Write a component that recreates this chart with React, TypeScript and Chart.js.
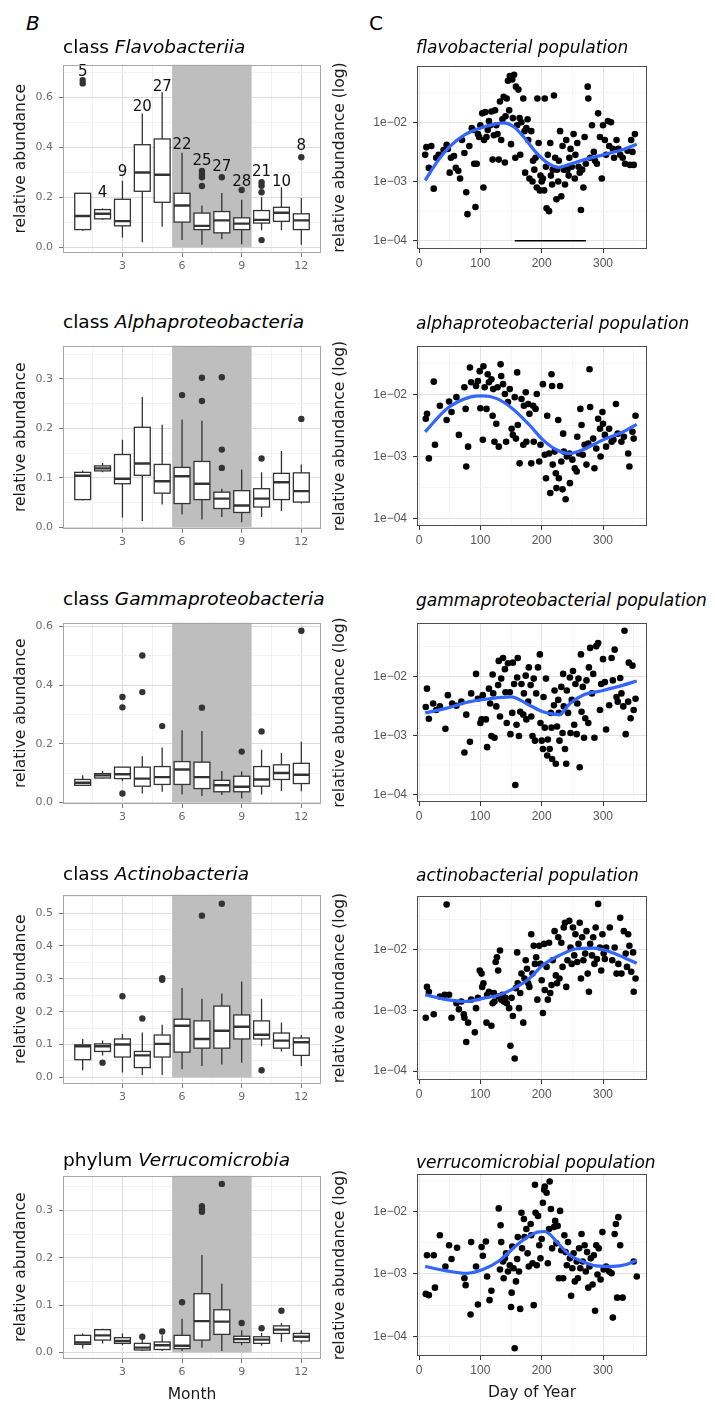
import React, { useEffect, useRef } from 'react';
import { Chart, registerables } from 'chart.js';

Chart.register(...registerables);

// ---------------- data: left column (monthly box plots) ----------------
const MONTHS = [1, 2, 3, 4, 5, 6, 7, 8, 9, 10, 11, 12];
const MONTH_MAJOR = [3, 6, 9, 12];
const MONTH_MINOR = [1.5, 4.5, 7.5, 10.5];
const MONTH_RANGE = [0.01, 12.99];
const SUMMER_MONTHS = [5.5, 9.5];

// [lower whisker, q1, median, q3, upper whisker]
const FLAVO_BOX = [
  [0.066, 0.071, 0.125, 0.216, 0.216],
  [0.11, 0.114, 0.134, 0.151, 0.155],
  [0.039, 0.086, 0.105, 0.192, 0.266],
  [0.02, 0.224, 0.299, 0.41, 0.535],
  [0.082, 0.18, 0.29, 0.433, 0.62],
  [0.029, 0.101, 0.167, 0.216, 0.378],
  [0.01, 0.071, 0.086, 0.137, 0.167],
  [0.032, 0.058, 0.108, 0.143, 0.217],
  [0.012, 0.071, 0.095, 0.118, 0.19],
  [0.068, 0.097, 0.11, 0.147, 0.2],
  [0.068, 0.104, 0.138, 0.16, 0.24],
  [0.01, 0.071, 0.108, 0.134, 0.197],
];
const FLAVO_OUT = [[1, 0.655], [1, 0.668], [7, 0.305], [7, 0.292], [7, 0.28], [7, 0.245], [8, 0.28], [9, 0.229], [10, 0.26], [10, 0.246], [10, 0.22], [10, 0.029], [12, 0.36]];
const FLAVO_N = [5, 4, 9, 20, 27, 22, 25, 27, 28, 21, 10, 8];
const FLAVO_N_Y = [0.70, 0.215, 0.30, 0.56, 0.64, 0.41, 0.345, 0.32, 0.262, 0.30, 0.262, 0.405];
const FLAVO_YRANGE = [-0.0225, 0.73];
const FLAVO_YMAJOR = [0, 0.2, 0.4, 0.6];
const FLAVO_YMINOR = [0.1, 0.3, 0.5, 0.7];

const ALPHA_BOX = [
  [0.054, 0.056, 0.104, 0.111, 0.115],
  [0.111, 0.114, 0.119, 0.124, 0.13],
  [0.02, 0.088, 0.098, 0.147, 0.177],
  [0.013, 0.105, 0.129, 0.202, 0.263],
  [0.046, 0.069, 0.093, 0.127, 0.207],
  [0.026, 0.048, 0.103, 0.121, 0.218],
  [0.016, 0.056, 0.088, 0.133, 0.215],
  [0.021, 0.038, 0.058, 0.071, 0.078],
  [0.01, 0.03, 0.044, 0.074, 0.117],
  [0.021, 0.041, 0.058, 0.078, 0.111],
  [0.033, 0.056, 0.091, 0.109, 0.154],
  [0.048, 0.051, 0.073, 0.11, 0.127],
];
const ALPHA_OUT = [[6, 0.267], [7, 0.302], [7, 0.255], [8, 0.303], [8, 0.157], [8, 0.12], [10, 0.139], [12, 0.219]];
const ALPHA_YRANGE = [-0.0034, 0.367];
const ALPHA_YMAJOR = [0, 0.1, 0.2, 0.3];
const ALPHA_YMINOR = [0.05, 0.15, 0.25, 0.35];

const GAMMA_BOX = [
  [0.056, 0.058, 0.067, 0.078, 0.092],
  [0.081, 0.083, 0.092, 0.098, 0.107],
  [0.072, 0.081, 0.096, 0.12, 0.12],
  [0.03, 0.055, 0.081, 0.12, 0.157],
  [0.036, 0.061, 0.086, 0.122, 0.187],
  [0.027, 0.061, 0.112, 0.139, 0.246],
  [0.022, 0.047, 0.086, 0.137, 0.243],
  [0.025, 0.036, 0.058, 0.075, 0.107],
  [0.013, 0.036, 0.053, 0.089, 0.105],
  [0.027, 0.055, 0.078, 0.122, 0.179],
  [0.039, 0.078, 0.1, 0.128, 0.168],
  [0.038, 0.064, 0.094, 0.133, 0.207],
];
const GAMMA_OUT = [[3, 0.359], [3, 0.324], [3, 0.03], [4, 0.501], [4, 0.376], [5, 0.26], [7, 0.323], [9, 0.173], [10, 0.242], [12, 0.585]];
const GAMMA_YRANGE = [-0.0057, 0.613];
const GAMMA_YMAJOR = [0, 0.2, 0.4, 0.6];
const GAMMA_YMINOR = [0.1, 0.3, 0.5];

const ACTINO_BOX = [
  [0.022, 0.054, 0.095, 0.099, 0.117],
  [0.067, 0.079, 0.095, 0.102, 0.112],
  [0.015, 0.062, 0.1, 0.117, 0.132],
  [0.007, 0.03, 0.067, 0.079, 0.137],
  [0.007, 0.062, 0.102, 0.129, 0.16],
  [0.025, 0.077, 0.157, 0.177, 0.272],
  [0.035, 0.089, 0.117, 0.172, 0.239],
  [0.039, 0.089, 0.142, 0.217, 0.255],
  [0.045, 0.117, 0.154, 0.19, 0.292],
  [0.095, 0.117, 0.13, 0.172, 0.239],
  [0.079, 0.089, 0.112, 0.135, 0.167],
  [0.035, 0.067, 0.107, 0.12, 0.129],
];
const ACTINO_OUT = [[2, 0.045], [3, 0.247], [4, 0.179], [5, 0.302], [5, 0.297], [7, 0.492], [8, 0.528], [10, 0.022]];
const ACTINO_YRANGE = [-0.02, 0.556];
const ACTINO_YMAJOR = [0, 0.1, 0.2, 0.3, 0.4, 0.5];
const ACTINO_YMINOR = [0.05, 0.15, 0.25, 0.35, 0.45, 0.55];

const VERRUCO_BOX = [
  [0.008, 0.017, 0.021, 0.036, 0.04],
  [0.019, 0.026, 0.036, 0.048, 0.05],
  [0.015, 0.019, 0.024, 0.031, 0.04],
  [0.003, 0.005, 0.01, 0.019, 0.026],
  [0.003, 0.006, 0.015, 0.022, 0.036],
  [0.003, 0.008, 0.014, 0.036, 0.071],
  [0.01, 0.026, 0.066, 0.124, 0.206],
  [0.003, 0.038, 0.065, 0.09, 0.145],
  [0.015, 0.021, 0.028, 0.034, 0.047],
  [0.014, 0.019, 0.027, 0.033, 0.041],
  [0.022, 0.04, 0.048, 0.056, 0.062],
  [0.019, 0.024, 0.033, 0.04, 0.047],
];
const VERRUCO_OUT = [[4, 0.033], [5, 0.044], [6, 0.106], [7, 0.309], [7, 0.302], [7, 0.297], [8, 0.356], [9, 0.062], [10, 0.051], [11, 0.088]];
const VERRUCO_YRANGE = [-0.014, 0.3735];
const VERRUCO_YMAJOR = [0, 0.1, 0.2, 0.3];
const VERRUCO_YMINOR = [0.05, 0.15, 0.25, 0.35];

// ---------------- data: right column (day of year, log10 abundance) ----------------
const DAY_MAJOR = [0, 100, 200, 300];
const DAY_MINOR = [50, 150, 250, 350];
const DAY_RANGE = [-3.3, 371.7];
const LOG_MAJOR = [1e-4, 1e-3, 1e-2];
const LOG_MAJOR_LABELS = ['1e\u221204', '1e\u221203', '1e\u221202'];
const LOG_MINOR = [3.162e-4, 3.162e-3, 3.162e-2];
const SUMMER_DAYS = [156, 272];
const SUMMER_BAR_LEVEL = 1e-4;

const FLAVO_PTS = [
  [10, -2.55], [12, -2.42], [16, -2.77], [20, -2.40], [24, -3.12], [28, -2.60], [32, -2.55], [40, -2.47], [45, -2.38], [47, -2.45],
  [50, -2.85], [52, -2.60], [57, -2.57], [60, -2.77], [64, -2.82], [67, -2.95], [70, -2.30], [74, -2.52], [77, -3.18], [79, -3.55],
  [82, -2.40], [86, -2.10], [88, -2.13], [90, -2.70], [92, -3.43], [94, -2.70], [96, -2.20], [98, -2.25], [100, -2.05], [103, -1.85],
  [105, -3.10], [106, -2.30], [108, -1.83], [110, -2.25], [112, -2.13], [114, -1.98], [116, -2.05], [118, -1.82], [120, -2.63], [122, -2.22],
  [124, -1.80], [126, -2.05], [128, -2.20], [130, -2.63], [132, -1.65], [134, -2.30], [136, -1.95], [138, -1.57], [140, -2.68], [141, -1.90],
  [143, -1.60], [145, -1.30], [147, -1.80], [148, -1.22], [150, -2.37], [152, -1.28], [153, -1.93], [155, -1.20], [157, -2.60], [158, -1.40],
  [160, -2.05], [162, -1.45], [164, -1.93], [165, -2.55], [167, -2.00], [170, -1.60], [172, -2.15], [173, -2.85], [175, -2.10], [177, -1.95],
  [178, -2.30], [180, -2.95], [183, -2.15], [185, -3.00], [186, -2.65], [188, -2.80], [190, -2.60], [192, -3.10], [193, -1.60], [195, -2.35],
  [197, -3.15], [198, -2.90], [200, -3.00], [202, -2.95], [204, -3.15], [205, -1.60], [207, -2.75], [208, -3.45], [210, -2.55], [212, -3.50],
  [214, -2.35], [215, -2.90], [217, -3.05], [218, -2.80], [220, -1.55], [222, -2.60], [224, -3.30], [225, -2.80], [227, -3.00], [228, -2.65],
  [230, -2.15], [232, -3.25], [234, -2.40], [236, -2.80], [238, -3.05], [240, -2.30], [242, -2.80], [244, -2.90], [245, -2.60], [247, -2.45],
  [249, -2.75], [252, -2.20], [254, -2.95], [255, -2.55], [258, -2.35], [260, -2.75], [262, -2.85], [264, -3.48], [266, -2.80], [268, -3.10],
  [270, -2.25], [272, -2.70], [275, -1.40], [276, -1.60], [279, -2.60], [282, -2.05], [285, -2.50], [287, -2.65], [290, -2.70], [292, -1.85],
  [295, -2.25], [298, -2.95], [300, -2.05], [303, -2.30], [305, -2.55], [308, -1.98], [310, -2.40], [313, -2.00], [316, -2.45], [318, -2.60],
  [322, -2.30], [325, -2.45], [328, -2.55], [332, -2.60], [336, -2.70], [340, -2.48], [344, -2.72], [346, -2.30], [348, -2.50], [350, -2.72], [352, -2.20],
];
const FLAVO_FIT = [[10, -2.98], [30, -2.66], [50, -2.41], [75, -2.21], [100, -2.10], [120, -2.04], [138, -2.01], [155, -2.08], [170, -2.24], [190, -2.50], [210, -2.69], [228, -2.76], [245, -2.71], [270, -2.63], [300, -2.55], [330, -2.47], [355, -2.37]];
const FLAVO_LOGRANGE = [-4.138, -1.055];

const ALPHA_PTS = [
  [11, -2.39], [13, -2.31], [16, -3.03], [24, -1.79], [26, -2.81], [34, -2.18], [45, -2.41], [49, -2.11], [53, -2.28], [61, -2.04],
  [65, -2.65], [74, -1.88], [76, -2.23], [77, -3.16], [80, -2.84], [83, -1.56], [85, -1.80], [93, -1.86], [96, -1.78], [99, -1.62],
  [100, -2.22], [104, -2.73], [105, -1.54], [107, -1.88], [110, -2.23], [112, -1.67], [114, -1.80], [118, -1.75], [120, -2.34], [121, -1.91],
  [123, -2.76], [126, -2.47], [128, -1.88], [130, -2.84], [133, -1.51], [134, -1.70], [137, -1.83], [140, -1.99], [142, -2.76], [145, -2.12],
  [148, -1.91], [151, -2.55], [153, -2.65], [156, -2.04], [158, -2.71], [160, -1.64], [161, -2.49], [164, -3.11], [167, -2.07], [170, -2.81],
  [171, -2.18], [174, -1.96], [175, -2.76], [178, -2.15], [180, -2.31], [183, -3.11], [186, -2.18], [187, -2.76], [190, -2.23], [192, -1.99],
  [196, -3.08], [198, -2.81], [202, -1.83], [205, -2.97], [207, -3.35], [209, -2.34], [212, -2.95], [214, -3.59], [216, -1.67], [217, -1.86],
  [218, -3.13], [221, -2.92], [223, -3.27], [224, -3.51], [227, -2.41], [228, -3.35], [230, -1.86], [232, -3.08], [234, -3.53], [235, -2.63],
  [236, -2.92], [239, -3.69], [241, -3.00], [245, -2.95], [246, -3.43], [250, -3.05], [254, -3.19], [257, -3.24], [258, -2.68], [261, -2.95],
  [263, -2.23], [265, -2.49], [267, -2.97], [270, -2.81], [273, -3.13], [276, -2.79], [278, -1.59], [279, -2.20], [284, -2.71], [286, -3.19],
  [289, -2.87], [292, -2.39], [295, -2.55], [296, -3.00], [299, -2.28], [300, -2.47], [303, -2.65], [305, -2.84], [310, -2.55], [314, -2.76],
  [317, -2.73], [321, -2.15], [324, -2.63], [330, -2.76], [334, -2.68], [341, -2.95], [343, -3.16], [348, -2.60], [350, -2.71], [353, -2.34],
];
const ALPHA_FIT = [[10, -2.60], [45, -2.23], [83, -2.04], [104, -2.02], [126, -2.06], [153, -2.23], [180, -2.49], [202, -2.73], [224, -2.89], [246, -2.95], [267, -2.89], [300, -2.73], [333, -2.60], [355, -2.48]];
const ALPHA_LOGRANGE = [-4.122, -1.217];

const GAMMA_PTS = [
  [11, -2.52], [13, -2.21], [16, -2.72], [23, -2.46], [28, -2.57], [34, -2.51], [43, -2.89], [47, -2.32], [54, -2.46], [61, -2.50],
  [69, -2.43], [74, -3.29], [77, -2.65], [83, -3.11], [85, -2.29], [93, -1.96], [96, -2.38], [100, -2.79], [102, -2.73], [104, -2.32],
  [109, -2.73], [111, -3.20], [114, -2.21], [116, -2.46], [118, -3.01], [120, -1.97], [121, -2.29], [123, -3.04], [126, -2.51], [129, -2.15],
  [130, -1.74], [132, -2.68], [134, -2.04], [137, -1.69], [140, -1.88], [141, -2.27], [143, -2.79], [145, -1.78], [148, -2.27], [149, -2.98],
  [152, -2.62], [153, -1.77], [155, -2.13], [157, -3.84], [159, -2.82], [160, -2.02], [161, -1.69], [163, -3.01], [165, -2.60], [167, -2.13],
  [170, -2.65], [171, -2.29], [174, -1.99], [175, -2.73], [178, -2.43], [179, -1.85], [182, -2.15], [183, -2.68], [185, -3.01], [187, -2.04],
  [189, -3.09], [191, -2.29], [194, -1.85], [197, -1.63], [198, -2.79], [200, -3.09], [202, -3.23], [203, -2.35], [205, -2.87], [207, -2.04],
  [209, -3.34], [210, -3.07], [213, -3.23], [215, -2.62], [216, -2.87], [217, -3.40], [220, -2.49], [221, -2.24], [223, -3.48], [225, -2.85],
  [227, -2.40], [228, -2.62], [229, -3.09], [232, -2.18], [234, -2.96], [235, -1.96], [236, -2.51], [238, -3.23], [240, -3.48], [241, -2.24],
  [243, -2.62], [246, -2.02], [247, -2.96], [249, -2.40], [251, -1.91], [253, -2.82], [255, -2.13], [257, -2.98], [258, -2.46], [260, -2.04],
  [262, -3.54], [264, -1.63], [265, -2.60], [267, -2.18], [269, -3.04], [271, -2.71], [273, -2.07], [276, -2.79], [277, -1.85], [279, -1.52],
  [282, -2.29], [284, -1.96], [286, -3.04], [289, -1.49], [292, -1.44], [295, -2.57], [297, -2.13], [300, -1.71], [303, -2.10], [305, -2.90],
  [310, -2.49], [314, -1.69], [316, -2.07], [319, -1.55], [322, -2.35], [324, -2.43], [328, -2.03], [330, -2.29], [333, -2.51], [335, -1.23],
  [337, -2.98], [341, -2.43], [342, -1.77], [345, -2.71], [348, -1.82], [350, -2.57], [353, -2.38],
];
const GAMMA_FIT = [[10, -2.62], [45, -2.54], [83, -2.43], [115, -2.38], [150, -2.35], [180, -2.49], [202, -2.60], [229, -2.65], [246, -2.46], [267, -2.32], [300, -2.24], [333, -2.15], [355, -2.08]];
const GAMMA_LOGRANGE = [-4.128, -1.102];

const ACTINO_PTS = [
  [11, -3.12], [13, -2.61], [16, -2.69], [24, -3.06], [34, -2.77], [42, -2.74], [45, -1.25], [49, -2.74], [53, -3.12], [61, -2.88],
  [65, -2.98], [69, -2.85], [73, -3.06], [74, -3.12], [77, -3.52], [80, -3.20], [85, -2.82], [91, -3.36], [93, -2.96], [96, -2.79],
  [99, -2.34], [102, -2.39], [103, -2.61], [105, -2.55], [110, -3.20], [111, -2.74], [114, -2.69], [118, -3.25], [120, -2.88], [122, -2.71],
  [123, -2.85], [125, -2.20], [127, -2.12], [129, -2.34], [130, -2.77], [132, -2.01], [134, -2.82], [136, -2.74], [138, -2.85], [141, -2.79],
  [143, -2.88], [147, -2.96], [149, -3.58], [151, -2.79], [153, -3.09], [156, -3.79], [158, -2.63], [160, -2.04], [161, -2.55], [163, -2.96],
  [165, -2.71], [167, -2.39], [170, -3.20], [172, -2.47], [174, -2.17], [176, -2.31], [178, -2.55], [180, -2.61], [183, -1.74], [185, -2.39],
  [187, -1.93], [189, -2.23], [191, -2.12], [193, -2.82], [196, -1.93], [198, -2.23], [200, -2.50], [202, -3.04], [204, -1.90], [205, -2.66],
  [208, -2.28], [210, -2.82], [212, -1.88], [214, -2.71], [216, -2.58], [218, -2.17], [221, -1.69], [223, -2.42], [225, -2.55], [227, -1.79],
  [229, -2.47], [232, -1.88], [234, -2.28], [236, -1.63], [238, -1.55], [240, -2.61], [242, -2.17], [245, -1.52], [247, -1.96], [249, -2.23],
  [251, -1.63], [253, -2.09], [255, -1.74], [258, -2.20], [260, -1.90], [262, -1.55], [264, -2.47], [266, -1.79], [268, -2.17], [271, -2.06],
  [273, -1.69], [275, -2.39], [277, -2.69], [279, -1.90], [282, -2.09], [284, -1.79], [286, -2.23], [288, -1.63], [290, -2.15], [292, -1.24],
  [295, -1.96], [297, -2.34], [299, -1.74], [301, -2.06], [303, -2.15], [305, -1.96], [311, -1.63], [315, -2.17], [319, -1.96], [322, -2.39],
  [325, -2.23], [328, -1.47], [330, -2.39], [334, -1.69], [337, -2.06], [339, -2.28], [341, -1.74], [343, -1.93], [346, -2.36], [349, -2.04],
  [350, -2.69], [353, -2.47],
];
const ACTINO_FIT = [[10, -2.74], [45, -2.82], [77, -2.85], [104, -2.80], [132, -2.74], [159, -2.61], [180, -2.47], [202, -2.25], [229, -2.09], [257, -1.98], [284, -1.97], [311, -2.03], [333, -2.12], [355, -2.22]];
const ACTINO_LOGRANGE = [-4.146, -1.113];

const VERRUCO_PTS = [
  [11, -3.32], [13, -2.70], [16, -3.34], [24, -2.70], [26, -3.22], [34, -2.38], [43, -2.88], [49, -2.54], [53, -2.76], [62, -2.58],
  [74, -3.07], [76, -3.18], [84, -3.65], [85, -2.49], [93, -2.88], [96, -3.49], [102, -2.57], [104, -2.71], [109, -2.48], [111, -3.04],
  [115, -3.42], [118, -3.27], [130, -1.95], [132, -2.93], [133, -2.22], [134, -2.49], [137, -2.80], [138, -3.07], [140, -2.75], [142, -2.67],
  [145, -2.96], [148, -2.86], [150, -3.53], [151, -3.30], [152, -2.56], [154, -2.91], [156, -4.19], [158, -3.12], [160, -2.76], [161, -2.41],
  [163, -2.96], [165, -3.56], [167, -2.02], [168, -2.59], [171, -2.12], [172, -2.41], [175, -2.28], [177, -2.67], [179, -2.88], [182, -2.20],
  [183, -2.38], [185, -2.83], [187, -3.50], [189, -1.57], [190, -2.02], [192, -2.86], [194, -2.07], [196, -2.54], [198, -2.75], [200, -2.44],
  [202, -1.86], [204, -1.65], [205, -1.60], [208, -1.70], [210, -2.83], [212, -2.28], [213, -1.52], [215, -1.96], [217, -2.59], [220, -2.25],
  [222, -2.15], [224, -2.51], [226, -2.23], [228, -3.07], [230, -1.99], [232, -2.62], [235, -3.07], [237, -2.38], [239, -2.65], [241, -2.86],
  [243, -2.49], [246, -2.75], [248, -3.35], [250, -2.91], [252, -2.67], [254, -3.12], [257, -2.80], [259, -3.07], [261, -2.59], [263, -2.91],
  [265, -2.36], [267, -2.80], [270, -2.54], [272, -2.96], [274, -2.65], [276, -3.22], [278, -2.88], [280, -2.75], [283, -3.17], [285, -2.70],
  [287, -3.59], [289, -2.54], [291, -3.01], [293, -2.59], [296, -3.09], [299, -2.33], [301, -2.93], [305, -2.88], [310, -2.96], [314, -2.99],
  [316, -3.70], [319, -2.36], [321, -2.20], [323, -3.38], [325, -2.09], [328, -2.54], [332, -3.38], [350, -2.80], [355, -3.04],
];
const VERRUCO_FIT = [[10, -2.88], [45, -2.95], [77, -2.99], [104, -2.93], [132, -2.78], [159, -2.54], [180, -2.39], [193, -2.33], [205, -2.32], [214, -2.37], [224, -2.48], [246, -2.70], [267, -2.80], [289, -2.87], [316, -2.88], [338, -2.85], [355, -2.78]];
const VERRUCO_LOGRANGE = [-4.315, -1.402];

// ---------------- texts ----------------
const LEFT_TITLES = [
  ['class', 'Flavobacteriia'],
  ['class', 'Alphaproteobacteria'],
  ['class', 'Gammaproteobacteria'],
  ['class', 'Actinobacteria'],
  ['phylum', 'Verrucomicrobia'],
];
const RIGHT_TITLES = [
  'flavobacterial population',
  'alphaproteobacterial population',
  'gammaproteobacterial population',
  'actinobacterial population',
  'verrucomicrobial population',
];

// ---------------- layout (page pixels) ----------------
const LEFT_X = [63, 321];
const RIGHT_X = [417, 647];
const LEFT_Y = [[62, 253], [343, 529], [620, 804], [892, 1084], [1173, 1359]];
const RIGHT_Y = [[63, 249], [343, 526], [620, 802], [893, 1080], [1171, 1356]];
const LEFT_TITLE_BASE = [53.3, 328.3, 606, 881, 1166.7];
const RIGHT_TITLE_BASE = [53.3, 329.3, 606.7, 881, 1168.3];

const FONT = "'DejaVu Sans', sans-serif";
const FONT_NAME = 'DejaVu Sans';
const TICK_FONT_RIGHT = 'Liberation Sans';
const BOX_WIDTH = 0.8;
const SHADE = '#bebebe';

const near = (arr: number[], v: number) => arr.some((a) => Math.abs(a - v) < 1e-9);

type LeftPanel = {
  box: number[][]; out: number[][]; counts?: number[]; countY?: number[];
  yRange: number[]; yMajor: number[]; yMinor: number[];
};

const LEFT_PANELS: LeftPanel[] = [
  { box: FLAVO_BOX, out: FLAVO_OUT, counts: FLAVO_N, countY: FLAVO_N_Y, yRange: FLAVO_YRANGE, yMajor: FLAVO_YMAJOR, yMinor: FLAVO_YMINOR },
  { box: ALPHA_BOX, out: ALPHA_OUT, yRange: ALPHA_YRANGE, yMajor: ALPHA_YMAJOR, yMinor: ALPHA_YMINOR },
  { box: GAMMA_BOX, out: GAMMA_OUT, yRange: GAMMA_YRANGE, yMajor: GAMMA_YMAJOR, yMinor: GAMMA_YMINOR },
  { box: ACTINO_BOX, out: ACTINO_OUT, yRange: ACTINO_YRANGE, yMajor: ACTINO_YMAJOR, yMinor: ACTINO_YMINOR },
  { box: VERRUCO_BOX, out: VERRUCO_OUT, yRange: VERRUCO_YRANGE, yMajor: VERRUCO_YMAJOR, yMinor: VERRUCO_YMINOR },
];

type RightPanel = { pts: number[][]; fit: number[][]; logRange: number[]; summerBar?: boolean };
const RIGHT_PANELS: RightPanel[] = [
  { pts: FLAVO_PTS, fit: FLAVO_FIT, logRange: FLAVO_LOGRANGE, summerBar: true },
  { pts: ALPHA_PTS, fit: ALPHA_FIT, logRange: ALPHA_LOGRANGE },
  { pts: GAMMA_PTS, fit: GAMMA_FIT, logRange: GAMMA_LOGRANGE },
  { pts: ACTINO_PTS, fit: ACTINO_FIT, logRange: ACTINO_LOGRANGE },
  { pts: VERRUCO_PTS, fit: VERRUCO_FIT, logRange: VERRUCO_LOGRANGE },
];

const LEFT_PAD_TOP = 10;
const RIGHT_PAD_TOP = 10;
const LEFT_CANVAS_X = 0;
const RIGHT_CANVAS_X = 328;
const PAD_RIGHT = 9;

function makeBoxPlugin(p: LeftPanel) {
  return {
    id: 'boxplotDraw',
    beforeDatasetsDraw(chart: any) {
      const { ctx, chartArea: a, scales } = chart;
      const x = scales.x, y = scales.y;
      ctx.save();
      ctx.beginPath();
      ctx.rect(a.left, a.top, a.right - a.left, a.bottom - a.top);
      ctx.clip();
      const sx0 = x.getPixelForValue(SUMMER_MONTHS[0]);
      const sx1 = x.getPixelForValue(SUMMER_MONTHS[1]);
      const sy = y.getPixelForValue(0);
      ctx.fillStyle = SHADE;
      ctx.fillRect(sx0, a.top, sx1 - sx0, sy - a.top);
      ctx.strokeStyle = '#333333';
      p.box.forEach((st, i) => {
        const m = MONTHS[i];
        const cx = x.getPixelForValue(m);
        const xl = x.getPixelForValue(m - BOX_WIDTH / 2);
        const xr = x.getPixelForValue(m + BOX_WIDTH / 2);
        const [lo, q1, med, q3, hi] = st.map((v) => y.getPixelForValue(v));
        ctx.lineWidth = 1.3;
        ctx.beginPath();
        ctx.moveTo(cx, lo); ctx.lineTo(cx, q1);
        ctx.moveTo(cx, q3); ctx.lineTo(cx, hi);
        ctx.stroke();
        ctx.fillStyle = '#ffffff';
        ctx.fillRect(xl, q3, xr - xl, q1 - q3);
        ctx.strokeRect(xl, q3, xr - xl, q1 - q3);
        ctx.lineWidth = 2.4;
        ctx.beginPath();
        ctx.moveTo(xl, med); ctx.lineTo(xr, med);
        ctx.stroke();
      });
      ctx.restore();
    },
    afterDatasetsDraw(chart: any) {
      if (!p.counts || !p.countY) return;
      const { ctx, scales } = chart;
      ctx.save();
      ctx.font = `15px ${FONT}`;
      ctx.fillStyle = '#111111';
      ctx.textAlign = 'center';
      ctx.textBaseline = 'middle';
      p.counts.forEach((n, i) => {
        ctx.fillText(String(n), scales.x.getPixelForValue(MONTHS[i]), scales.y.getPixelForValue(p.countY![i]));
      });
      ctx.restore();
    },
    afterDraw(chart: any) {
      const { ctx, chartArea: a } = chart;
      ctx.save();
      ctx.strokeStyle = '#a6a6a6';
      ctx.lineWidth = 1;
      ctx.strokeRect(Math.round(a.left) + 0.5, Math.round(a.top) + 0.5, Math.round(a.right - a.left) - 1, Math.round(a.bottom - a.top) - 1);
      ctx.restore();
    },
  };
}

const frameDark = {
  id: 'frameDark',
  afterDraw(chart: any) {
    const { ctx, chartArea: a } = chart;
    ctx.save();
    ctx.strokeStyle = '#4d4d4d';
    ctx.lineWidth = 1;
    ctx.strokeRect(Math.round(a.left) + 0.5, Math.round(a.top) + 0.5, Math.round(a.right - a.left) - 1, Math.round(a.bottom - a.top) - 1);
    ctx.restore();
  },
};

function leftConfig(p: LeftPanel, xAxisH: number, xTitle: string | null): any {
  const ymaj = p.yMajor;
  return {
    type: 'scatter',
    data: {
      datasets: [{
        data: p.out.map(([m, v]) => ({ x: m, y: v })),
        pointRadius: 3.2, pointHoverRadius: 3.2,
        pointBackgroundColor: '#333333', pointBorderWidth: 0, backgroundColor: '#333333',
      }],
    },
    options: {
      animation: false, responsive: false, events: [],
      layout: { padding: { top: LEFT_PAD_TOP, right: PAD_RIGHT, left: 0, bottom: 0 } },
      plugins: { legend: { display: false }, tooltip: { enabled: false } },
      scales: {
        x: {
          type: 'linear', min: MONTH_RANGE[0], max: MONTH_RANGE[1],
          afterBuildTicks: (s: any) => { s.ticks = [...MONTH_MINOR, ...MONTH_MAJOR].sort((a, b) => a - b).map((v) => ({ value: v })); },
          afterFit: (s: any) => { s.height = xAxisH; },
          ticks: {
            autoSkip: false, maxRotation: 0, padding: 3, color: '#6b6b6b',
            font: { family: FONT_NAME, size: 11 },
            callback: (v: number) => (near(MONTH_MAJOR, v) ? String(v) : ''),
          },
          grid: {
            color: (c: any) => (c.tick && near(MONTH_MAJOR, c.tick.value) ? '#dcdcdc' : '#ededed'),
            lineWidth: (c: any) => (c.tick && near(MONTH_MAJOR, c.tick.value) ? 1 : 0.7),
            tickColor: (c: any) => (c.tick && near(MONTH_MAJOR, c.tick.value) ? '#777777' : 'rgba(0,0,0,0)'),
            tickLength: 4,
          },
          border: { display: false },
          title: { display: !!xTitle, text: xTitle || '', color: '#1a1a1a', font: { family: FONT_NAME, size: 15.5 }, padding: { top: 0, bottom: 0 } },
        },
        y: {
          type: 'linear', min: p.yRange[0], max: p.yRange[1],
          afterBuildTicks: (s: any) => { s.ticks = [...p.yMajor, ...p.yMinor].sort((a, b) => a - b).map((v) => ({ value: v })); },
          afterFit: (s: any) => { s.width = LEFT_X[0] - LEFT_CANVAS_X; },
          ticks: {
            autoSkip: false, padding: 6, color: '#6b6b6b',
            font: { family: FONT_NAME, size: 11 },
            callback: (v: number) => (near(ymaj, v) ? v.toFixed(1) : ''),
          },
          grid: {
            color: (c: any) => (c.tick && near(ymaj, c.tick.value) ? '#dcdcdc' : '#ededed'),
            lineWidth: (c: any) => (c.tick && near(ymaj, c.tick.value) ? 1 : 0.7),
            tickColor: (c: any) => (c.tick && near(ymaj, c.tick.value) ? '#777777' : 'rgba(0,0,0,0)'),
            tickLength: 4,
          },
          border: { display: false },
          title: { display: true, text: 'relative abundance', color: '#1a1a1a', font: { family: FONT_NAME, size: 15.5 }, padding: { top: 12, bottom: 0 } },
        },
      },
    },
    plugins: [makeBoxPlugin(p)],
  };
}

function isLogMajor(v: number) {
  return LOG_MAJOR.some((m) => Math.abs(m - v) / m < 1e-6);
}

function rightConfig(p: RightPanel, xAxisH: number, xTitle: string | null): any {
  const datasets: any[] = [
    {
      type: 'line',
      data: p.fit.map(([d, l]) => ({ x: d, y: Math.pow(10, l) })),
      borderColor: '#3366ff', borderWidth: 3.2, pointRadius: 0, fill: false,
      cubicInterpolationMode: 'monotone', tension: 0.4,
    },
  ];
  if (p.summerBar) {
    datasets.push({
      type: 'line',
      data: SUMMER_DAYS.map((d) => ({ x: d, y: SUMMER_BAR_LEVEL })),
      borderColor: '#000000', borderWidth: 1.4, pointRadius: 0, fill: false,
    });
  }
  datasets.push({
    data: p.pts.map(([d, l]) => ({ x: d, y: Math.pow(10, l) })),
    pointRadius: 3.3, pointHoverRadius: 3.3,
    pointBackgroundColor: '#000000', backgroundColor: '#000000', pointBorderWidth: 0,
  });
  return {
    type: 'scatter',
    data: { datasets },
    options: {
      animation: false, responsive: false, events: [],
      layout: { padding: { top: RIGHT_PAD_TOP, right: PAD_RIGHT, left: 0, bottom: 0 } },
      plugins: { legend: { display: false }, tooltip: { enabled: false } },
      scales: {
        x: {
          type: 'linear', min: DAY_RANGE[0], max: DAY_RANGE[1],
          afterBuildTicks: (s: any) => { s.ticks = [...DAY_MINOR, ...DAY_MAJOR].sort((a, b) => a - b).map((v) => ({ value: v })); },
          afterFit: (s: any) => { s.height = xAxisH; },
          ticks: {
            autoSkip: false, maxRotation: 0, padding: 3, color: '#555555',
            font: { family: TICK_FONT_RIGHT, size: 12 },
            callback: (v: number) => (near(DAY_MAJOR, v) ? String(v) : ''),
          },
          grid: {
            color: (c: any) => (c.tick && near(DAY_MAJOR, c.tick.value) ? '#e3e3e3' : '#f0f0f0'),
            lineWidth: (c: any) => (c.tick && near(DAY_MAJOR, c.tick.value) ? 1 : 0.7),
            tickColor: (c: any) => (c.tick && near(DAY_MAJOR, c.tick.value) ? '#333333' : 'rgba(0,0,0,0)'),
            tickLength: 4,
          },
          border: { display: false },
          title: { display: !!xTitle, text: xTitle || '', color: '#1a1a1a', font: { family: FONT_NAME, size: 15.5 }, padding: { top: 0, bottom: 0 } },
        },
        y: {
          type: 'logarithmic', min: Math.pow(10, p.logRange[0]), max: Math.pow(10, p.logRange[1]),
          bounds: 'data',
          afterBuildTicks: (s: any) => { s.ticks = [...LOG_MAJOR, ...LOG_MINOR].sort((a, b) => a - b).filter((v) => v >= s.min && v <= s.max).map((v) => ({ value: v })); },
          afterFit: (s: any) => { s.width = RIGHT_X[0] - RIGHT_CANVAS_X; },
          ticks: {
            autoSkip: false, padding: 6, color: '#555555',
            font: { family: TICK_FONT_RIGHT, size: 12 },
            callback: (v: number) => {
              const i = LOG_MAJOR.findIndex((m) => Math.abs(m - v) / m < 1e-6);
              return i >= 0 ? LOG_MAJOR_LABELS[i] : '';
            },
          },
          grid: {
            color: (c: any) => (c.tick && isLogMajor(c.tick.value) ? '#e3e3e3' : '#f0f0f0'),
            lineWidth: (c: any) => (c.tick && isLogMajor(c.tick.value) ? 1 : 0.7),
            tickColor: (c: any) => (c.tick && isLogMajor(c.tick.value) ? '#333333' : 'rgba(0,0,0,0)'),
            tickLength: 4,
          },
          border: { display: false },
          title: { display: true, text: 'relative abundance (log)', color: '#1a1a1a', font: { family: FONT_NAME, size: 15.5 }, padding: { top: 3, bottom: 0 } },
        },
      },
    },
    plugins: [frameDark],
  };
}

function ChartCanvas(props: { left: number; top: number; width: number; height: number; make: () => any }) {
  const ref = useRef<HTMLCanvasElement | null>(null);
  useEffect(() => {
    if (!ref.current) return;
    const chart = new Chart(ref.current, props.make());
    return () => chart.destroy();
  }, []);
  return (
    <canvas
      ref={ref}
      width={props.width}
      height={props.height}
      style={{ position: 'absolute', left: props.left, top: props.top, width: props.width, height: props.height }}
    />
  );
}

function TextAt(props: { left: number; baseline: number; size: number; children: React.ReactNode; italic?: boolean }) {
  return (
    <div
      style={{
        position: 'absolute', left: props.left, top: props.baseline - 0.846 * props.size,
        fontFamily: FONT, fontSize: props.size, lineHeight: 1, whiteSpace: 'nowrap', color: '#000',
        fontStyle: props.italic ? 'italic' : 'normal',
      }}
    >
      {props.children}
    </div>
  );
}

export default function App() {
  const last = LEFT_PANELS.length - 1;
  return (
    <div style={{ position: 'absolute', left: 0, top: 0, width: 715, height: 1405, background: '#fff', overflow: 'hidden' }}>
      <TextAt left={26} baseline={29.5} size={20} italic>B</TextAt>
      <TextAt left={369} baseline={30} size={20}>C</TextAt>
      {LEFT_PANELS.map((p, i) => {
        const xAxisH = i === last ? 45 : 24;
        const top = LEFT_Y[i][0] - LEFT_PAD_TOP;
        const height = LEFT_Y[i][1] + xAxisH - top;
        return (
          <ChartCanvas
            key={'l' + i}
            left={LEFT_CANVAS_X}
            top={top}
            width={LEFT_X[1] + PAD_RIGHT - LEFT_CANVAS_X}
            height={height}
            make={() => leftConfig(p, xAxisH, i === last ? 'Month' : null)}
          />
        );
      })}
      {RIGHT_PANELS.map((p, i) => {
        const xAxisH = i === last ? 46 : 24;
        const top = RIGHT_Y[i][0] - RIGHT_PAD_TOP;
        const height = RIGHT_Y[i][1] + xAxisH - top;
        return (
          <ChartCanvas
            key={'r' + i}
            left={RIGHT_CANVAS_X}
            top={top}
            width={RIGHT_X[1] + PAD_RIGHT - RIGHT_CANVAS_X}
            height={height}
            make={() => rightConfig(p, xAxisH, i === last ? 'Day of Year' : null)}
          />
        );
      })}
      {LEFT_TITLES.map(([a, b], i) => (
        <TextAt key={'lt' + i} left={LEFT_X[0]} baseline={LEFT_TITLE_BASE[i]} size={18.5}>
          {a} <span style={{ fontStyle: 'italic' }}>{b}</span>
        </TextAt>
      ))}
      {RIGHT_TITLES.map((t, i) => (
        <TextAt key={'rt' + i} left={RIGHT_X[0] - 1} baseline={RIGHT_TITLE_BASE[i]} size={17} italic>
          {t}
        </TextAt>
      ))}
    </div>
  );
}
